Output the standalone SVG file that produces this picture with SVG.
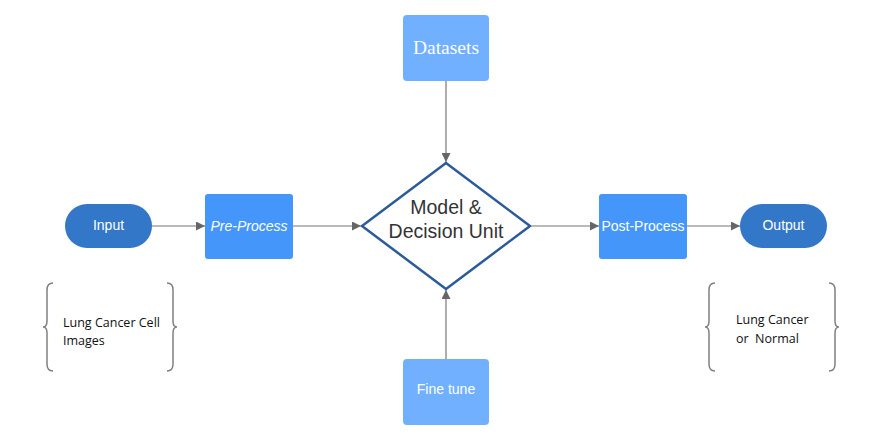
<svg xmlns="http://www.w3.org/2000/svg" width="886" height="442" viewBox="0 0 886 442">
<style>
.conn{stroke:#777;stroke-width:1.2;fill:none;marker-end:url(#ah)}
.brace{stroke:#808080;stroke-width:1.5;fill:none}
.pill{fill:#3277c8}
.box{fill:#4496fb}
.lbox{fill:#70b0ff}
.wt{fill:#fff;font-family:"Liberation Sans",Arial,sans-serif;font-size:14px;text-anchor:middle}
.note{fill:#111;font-family:"Open Sans","Liberation Sans",sans-serif;font-size:12.5px}
</style>
<defs>
<marker id="ah" viewBox="0 0 10 10" refX="10" refY="5" markerWidth="9" markerHeight="9" markerUnits="userSpaceOnUse" orient="auto">
<path d="M0,0 L10,5 L0,10 Z" fill="#666"/>
</marker>
</defs>
<rect width="886" height="442" fill="#fff"/>
<g id="connectors">
<line class="conn" x1="446" y1="81" x2="446" y2="162"/>
<line class="conn" x1="446" y1="359" x2="446" y2="290"/>
<line class="conn" x1="152" y1="226" x2="205" y2="226"/>
<line class="conn" x1="293" y1="226" x2="361" y2="226"/>
<line class="conn" x1="531" y1="226" x2="599" y2="226"/>
<line class="conn" x1="687" y1="226" x2="740" y2="226"/>
</g>
<g id="datasets">
<rect class="lbox" x="403" y="15" width="86" height="66" rx="4"/>
<text x="446" y="54" fill="#fff" font-family="Liberation Serif,serif" font-size="19.5" text-anchor="middle">Datasets</text>
</g>
<g id="model">
<path d="M446,163 L530,226 L446,289 L362,226 Z" fill="#fff" stroke="#2b5b9b" stroke-width="2.5" stroke-linejoin="round"/>
<text x="446" y="214" fill="#333" font-family="Liberation Sans,Arial,sans-serif" font-size="19.5" text-anchor="middle">Model &amp;</text>
<text x="446" y="238" fill="#333" font-family="Liberation Sans,Arial,sans-serif" font-size="19.5" text-anchor="middle">Decision Unit</text>
</g>
<g id="input">
<rect class="pill" x="65" y="204" width="87" height="44" rx="22"/>
<text class="wt" x="108.5" y="230">Input</text>
</g>
<g id="preprocess">
<rect class="box" x="205" y="194" width="88" height="65" rx="3"/>
<text class="wt" x="249" y="231" font-style="italic">Pre-Process</text>
</g>
<g id="postprocess">
<rect class="box" x="599" y="194" width="88" height="65" rx="3"/>
<text class="wt" x="643" y="231">Post-Process</text>
</g>
<g id="output">
<rect class="pill" x="740" y="204" width="87" height="44" rx="22"/>
<text class="wt" x="783.5" y="230">Output</text>
</g>
<g id="finetune">
<rect class="lbox" x="403" y="359" width="86" height="66" rx="4"/>
<text class="wt" x="446" y="394">Fine tune</text>
</g>
<g id="input-note">
<path class="brace" d="M53,283 Q47,283 47,290 L47,321 Q47,327 43,327 Q47,327 47,333 L47,364 Q47,371 53,371"/>
<path class="brace" d="M167,283 Q173,283 173,290 L173,321 Q173,327 177,327 Q173,327 173,333 L173,364 Q173,371 167,371"/>
<text class="note" x="63" y="327">Lung Cancer Cell</text>
<text class="note" x="63" y="345">Images</text>
</g>
<g id="output-note">
<path class="brace" d="M715,283 Q709,283 709,290 L709,321 Q709,327 705,327 Q709,327 709,333 L709,364 Q709,371 715,371"/>
<path class="brace" d="M829,283 Q835,283 835,290 L835,321 Q835,327 839,327 Q835,327 835,333 L835,364 Q835,371 829,371"/>
<text class="note" x="736" y="324">Lung Cancer</text>
<text class="note" x="736" y="343" xml:space="preserve">or  Normal</text>
</g>
</svg>
